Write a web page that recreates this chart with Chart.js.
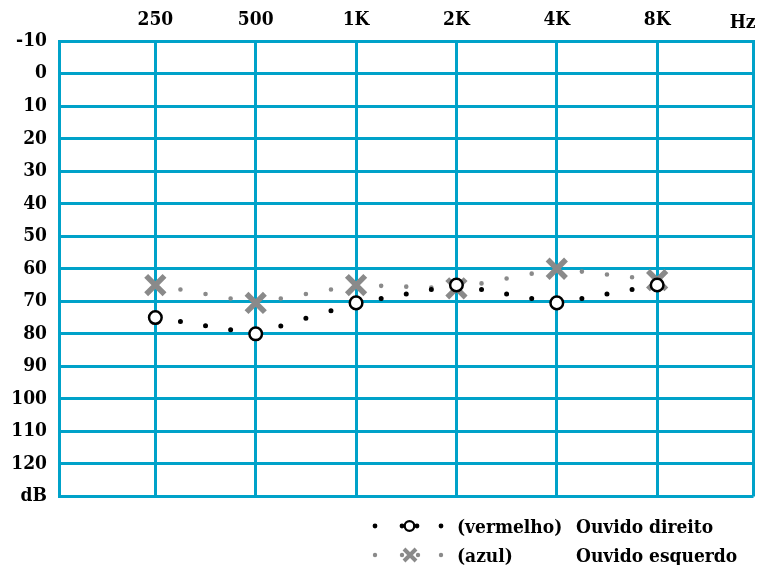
<!DOCTYPE html>
<html>
<head>
<meta charset="utf-8">
<script src="https://cdn.jsdelivr.net/npm/chart.js@4/dist/chart.umd.min.js"></script>
<style>
html, body { margin: 0; padding: 0; background: #fff; overflow: hidden; }
#wrap { width: 760px; height: 565px; }
canvas { display: block; }
</style>
</head>
<body>
<div id="wrap"><canvas id="audiograma"></canvas></div>
<script>
// frequências: primeira e última posição são as bordas do gráfico
const freqLabels = ['', '250', '500', '1K', '2K', '4K', '8K', 'Hz'];
const freqPos = [1, 2, 3, 4, 5, 6];
// escala de dB (de cima para baixo)
const dbLabels = ['-10', '0', '10', '20', '30', '40', '50', '60', '70', '80', '90', '100', '110', '120', 'dB'];
const ouvidoDireito = [75, 80, 70.5, 65, 70.5, 65];
const ouvidoEsquerdo = [65, 70.5, 65, 66, 60, 63.5];

const corGrade = '#00a2c9';
const corCinza = '#8a8a8a';
const fonte = '"DejaVu Serif Condensed", "DejaVu Serif", serif';

// pontilhado: 3 pontos entre cada par de frequências
function pontilhado(ctx) {
    const d = Math.hypot(ctx.p1.x - ctx.p0.x, ctx.p1.y - ctx.p0.y) / 4;
    return [0, d];
}

// legenda e "Hz" desenhados à mão
const legendaPlugin = {
    id: 'legenda',
    afterDraw(chart) {
        const ctx = chart.ctx;
        const area = chart.chartArea;
        ctx.save();
        ctx.font = 'bold 19px ' + fonte;
        ctx.fillStyle = '#000';
        ctx.textAlign = 'right';
        ctx.textBaseline = 'alphabetic';
        ctx.fillText(freqLabels[7], area.right + 2, 28);

        ctx.textAlign = 'left';
        ctx.fillText('(vermelho)', 457, 533);
        ctx.fillText('Ouvido direito', 576, 533);
        ctx.fillText('(azul)', 457, 562);
        ctx.fillText('Ouvido esquerdo', 576, 562);

        // linha 1: pontos pretos e círculo
        ctx.fillStyle = '#000';
        [375, 402, 417, 441].forEach(x => {
            ctx.beginPath();
            ctx.arc(x, 526, 2.4, 0, Math.PI * 2);
            ctx.fill();
        });
        ctx.beginPath();
        ctx.arc(409.5, 526, 4.8, 0, Math.PI * 2);
        ctx.fillStyle = '#fff';
        ctx.fill();
        ctx.lineWidth = 2.3;
        ctx.strokeStyle = '#000';
        ctx.stroke();

        // linha 2: pontos cinza e X
        ctx.fillStyle = corCinza;
        [375, 402, 418, 441].forEach(x => {
            ctx.beginPath();
            ctx.arc(x, 555, 2.2, 0, Math.PI * 2);
            ctx.fill();
        });
        ctx.strokeStyle = corCinza;
        ctx.lineWidth = 4;
        ctx.beginPath();
        ctx.moveTo(404, 549); ctx.lineTo(416, 561);
        ctx.moveTo(416, 549); ctx.lineTo(404, 561);
        ctx.stroke();
        ctx.restore();
    }
};

const ctx = document.getElementById('audiograma').getContext('2d');
new Chart(ctx, {
    type: 'line',
    data: {
        datasets: [{
            label: 'Ouvido direito',
            data: freqPos.map((x, i) => ({ x: x, y: ouvidoDireito[i] })),
            borderColor: '#000',
            borderWidth: 5,
            borderCapStyle: 'round',
            segment: { borderDash: pontilhado },
            pointStyle: 'circle',
            pointRadius: 6.3,
            pointBorderWidth: 2.5,
            pointBackgroundColor: '#fff',
            pointBorderColor: '#000',
            tension: 0
        }, {
            label: 'Ouvido esquerdo',
            data: freqPos.map((x, i) => ({ x: x, y: ouvidoEsquerdo[i] })),
            borderColor: corCinza,
            borderWidth: 4.6,
            borderCapStyle: 'round',
            segment: { borderDash: pontilhado },
            pointStyle: 'crossRot',
            pointRadius: 13,
            pointBorderWidth: 5.5,
            pointBorderColor: corCinza,
            pointBackgroundColor: corCinza,
            tension: 0
        }]
    },
    options: {
        responsive: true,
        maintainAspectRatio: false,
        animation: false,
        events: [],
        layout: { autoPadding: false, padding: { left: 0, right: 6.5, top: 0, bottom: 68.5 } },
        plugins: { legend: { display: false }, tooltip: { enabled: false } },
        scales: {
            x: {
                type: 'linear',
                position: 'top',
                min: 0.04,
                max: 6.96,
                afterBuildTicks: (scale) => {
                    scale.ticks = [0.04, 1, 2, 3, 4, 5, 6, 6.96].map(v => ({ value: v }));
                },
                afterFit: (scale) => {
                    scale.height = 41;
                    scale.paddingLeft = 0;
                    scale.paddingRight = 0;
                },
                grid: { color: corGrade, lineWidth: 3, drawTicks: false },
                border: { color: corGrade, width: 3 },
                ticks: {
                    padding: 10,
                    color: '#000',
                    font: { family: fonte, size: 19, weight: 'bold' },
                    maxRotation: 0,
                    autoSkip: false,
                    callback: (v, i) => (i === 7 ? '' : freqLabels[i])
                }
            },
            y: {
                reverse: true,
                min: -10,
                max: 130,
                afterFit: (scale) => { scale.width = 59; },
                grid: { color: corGrade, lineWidth: 3, drawTicks: false },
                border: { color: corGrade, width: 3 },
                ticks: {
                    stepSize: 10,
                    padding: 12,
                    color: '#000',
                    font: { family: fonte, size: 19, weight: 'bold' },
                    callback: (v) => dbLabels[Math.round((v + 10) / 10)]
                }
            }
        }
    },
    plugins: [legendaPlugin]
});
</script>
</body>
</html>
